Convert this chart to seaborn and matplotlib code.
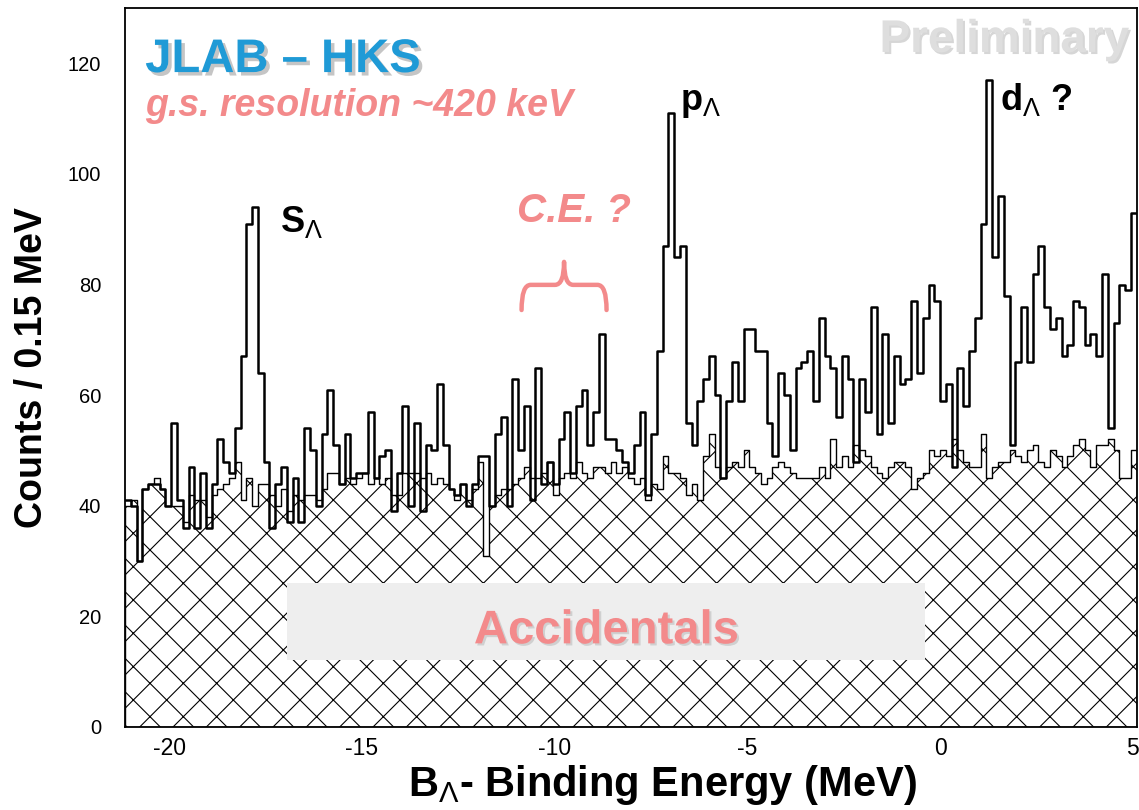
import numpy as np
import pandas as pd
import matplotlib
matplotlib.use("Agg")
import matplotlib.pyplot as plt
import matplotlib.patheffects as pe
from matplotlib.patches import Rectangle, PathPatch
from matplotlib.path import Path
from matplotlib.ticker import MultipleLocator
import seaborn as sns

# Histogram binning (MeV)
BIN_WIDTH = 0.15
X_START = -21.15

# Coincidence spectrum, counts per 0.15 MeV bin
signal_counts = [
    41, 40, 30, 43, 44, 44, 43, 40, 55, 41,
    36, 47, 36, 46, 36, 44, 52, 48, 46, 54,
    67, 91, 94, 64, 48, 36, 44, 47, 37, 45,
    37, 54, 50, 40, 53, 61, 51, 44, 53, 45,
    46, 46, 57, 45, 49, 50, 39, 46, 58, 40,
    55, 39, 51, 50, 62, 51, 43, 42, 44, 40,
    44, 49, 49, 40, 53, 56, 40, 63, 50, 58,
    41, 65, 44, 48, 44, 52, 57, 46, 58, 61,
    51, 57, 71, 52, 52, 50, 48, 46, 51, 57,
    42, 53, 68, 87, 111, 85, 87, 55, 51, 59,
    63, 67, 60, 45, 59, 66, 59, 72, 72, 68,
    68, 55, 49, 64, 60, 50, 65, 66, 68, 59,
    74, 67, 65, 56, 67, 63, 48, 63, 57, 76,
    53, 71, 55, 67, 62, 63, 77, 64, 74, 80,
    77, 59, 62, 47, 65, 58, 68, 74, 91, 117,
    85, 96, 78, 51, 66, 76, 66, 82, 87, 76,
    72, 74, 67, 69, 77, 76, 69, 71, 67, 82,
    54, 73, 80, 79, 93,
]

# Accidental coincidence background, counts per bin
accidental_counts = [
    40, 41, 30, 43, 44, 45, 43, 40, 40, 40,
    37, 42, 41, 41, 38, 42, 43, 44, 45, 48,
    41, 45, 40, 44, 44, 42, 40, 43, 39, 42,
    41, 42, 42, 41, 43, 46, 46, 44, 45, 44,
    45, 46, 44, 45, 44, 45, 42, 42, 46, 46,
    46, 45, 46, 44, 45, 44, 43, 41, 44, 41,
    43, 48, 31, 40, 42, 43, 43, 44, 45, 47,
    45, 45, 46, 48, 42, 45, 46, 45, 48, 46,
    45, 47, 47, 46, 48, 46, 47, 45, 44, 45,
    41, 44, 43, 49, 46, 46, 45, 42, 44, 41,
    49, 53, 47, 45, 47, 48, 47, 50, 47, 46,
    44, 45, 47, 48, 47, 46, 45, 45, 45, 45,
    47, 45, 52, 47, 49, 47, 51, 50, 49, 47,
    46, 45, 47, 48, 48, 47, 43, 45, 46, 50,
    49, 50, 49, 52, 50, 48, 47, 47, 53, 45,
    47, 48, 48, 50, 49, 48, 50, 51, 48, 47,
    50, 49, 47, 49, 51, 52, 50, 47, 51, 51,
    52, 50, 45, 45, 50,
]

x_ticks = [-20, -15, -10, -5, 0, 5]
y_ticks = [0, 20, 40, 60, 80, 100, 120]

n_bins = len(signal_counts)
edges = [X_START + BIN_WIDTH * i for i in range(n_bins + 1)]
centers = [0.5 * (edges[i] + edges[i + 1]) for i in range(n_bins)]
df = pd.DataFrame({"energy": centers,
                   "signal": signal_counts,
                   "accidental": accidental_counts})

sns.set_style("white")
plt.rcParams["font.family"] = ["Liberation Sans", "DejaVu Sans"]
plt.rcParams["mathtext.fontset"] = "custom"
plt.rcParams["mathtext.rm"] = "Liberation Sans"
plt.rcParams["mathtext.it"] = "Liberation Sans:italic"
plt.rcParams["mathtext.bf"] = "Liberation Sans:bold"
plt.rcParams["axes.unicode_minus"] = False
plt.rcParams["hatch.linewidth"] = 0.8
plt.rcParams["hatch.color"] = "black"

SALMON = "#f38a8b"
BLUE = "#1f9ad6"

fig = plt.figure(figsize=(11.39, 8.10), dpi=100)
ax = fig.add_axes([0.1097, 0.1025, 0.8883, 0.8875])

# accidentals: hatched filled step histogram
sns.histplot(data=df, x="energy", weights="accidental", bins=edges,
             element="step", fill=True, facecolor="white", edgecolor="black",
             hatch="x", linewidth=1.0, alpha=1, ax=ax)
# total spectrum: open step histogram
sns.histplot(data=df, x="energy", weights="signal", bins=edges,
             element="step", fill=False, color="black", linewidth=1.8, ax=ax)

ax.set_xlim(edges[0], edges[-1])
ax.set_ylim(0, 130)
ax.set_axisbelow(False)
ax.set_xticks(x_ticks)
ax.set_yticks(y_ticks)
ax.xaxis.set_minor_locator(MultipleLocator(1))
ax.yaxis.set_minor_locator(MultipleLocator(5))
ax.tick_params(axis="both", which="both", direction="in", top=False, right=False,
               color="black", labelcolor="black", width=1.0)
ax.tick_params(axis="x", which="major", length=11, labelsize=16.5, pad=7)
ax.tick_params(axis="x", which="minor", length=5)
ax.tick_params(axis="y", which="major", length=14, labelsize=14.5, pad=17)
ax.tick_params(axis="y", which="minor", length=7)
for sp in ax.spines.values():
    sp.set_color("black")
    sp.set_linewidth(1.3)

ax.set_ylabel("Counts / 0.15 MeV", fontsize=27, fontweight="bold", color="black")
ax.yaxis.label.set_va("center")
ax.yaxis.set_label_coords(-0.092, 0.5)
ax.set_xlabel(r"B$_\Lambda$- Binding Energy (MeV)", fontsize=30, fontweight="bold",
              color="black")
ax.xaxis.label.set_va("center")
ax.xaxis.set_label_coords(0.531, -0.081)

# text annotations
ax.text(0.02, 0.911, "JLAB \u2013 HKS", transform=ax.transAxes, color=BLUE,
        fontsize=34, fontweight="bold", va="baseline", ha="left",
        path_effects=[pe.withSimplePatchShadow(offset=(2.5, -2.5),
                                               shadow_rgbFace="0.5", alpha=0.45)])
ax.text(0.02, 0.850, "g.s. resolution ~420 keV", transform=ax.transAxes,
        color=SALMON, fontsize=27, fontweight="bold", fontstyle="italic",
        va="baseline", ha="left")
ax.text(0.387, 0.702, "C.E. ?", transform=ax.transAxes, color=SALMON,
        fontsize=29, fontweight="bold", fontstyle="italic", va="baseline")
ax.text(0.153, 0.688, r"S$_\Lambda$", transform=ax.transAxes, color="black",
        fontsize=26, fontweight="bold", va="baseline")
ax.text(0.549, 0.858, r"p$_\Lambda$", transform=ax.transAxes, color="black",
        fontsize=26, fontweight="bold", va="baseline")
ax.text(0.865, 0.858, r"d$_\Lambda$ ?", transform=ax.transAxes, color="black",
        fontsize=26, fontweight="bold", va="baseline")
ax.text(0.993, 0.939, "Preliminary", transform=ax.transAxes, color="#dedede",
        fontsize=33, fontweight="bold", va="baseline", ha="right",
        path_effects=[pe.withSimplePatchShadow(offset=(1.5, -1.5),
                                               shadow_rgbFace="0.6", alpha=0.4)])

# horizontal curly brace over the C.E. region
def curly_brace(axis, x0, x1, y_end, y_mid, y_tip, color, lw):
    xm = 0.5 * (x0 + x1)
    r = 0.009
    verts = [(x0, y_end), (x0, y_mid), (x0 + r, y_mid),
             (xm - r, y_mid),
             (xm, y_mid), (xm, y_tip),
             (xm, y_mid), (xm + r, y_mid),
             (x1 - r, y_mid),
             (x1, y_mid), (x1, y_end)]
    codes = [Path.MOVETO, Path.CURVE3, Path.CURVE3,
             Path.LINETO,
             Path.CURVE3, Path.CURVE3,
             Path.CURVE3, Path.CURVE3,
             Path.LINETO,
             Path.CURVE3, Path.CURVE3]
    patch = PathPatch(Path(verts, codes), facecolor="none", edgecolor=color,
                      linewidth=lw, transform=axis.transAxes, clip_on=False,
                      capstyle="round", joinstyle="round", zorder=5)
    axis.add_patch(patch)

curly_brace(ax, 0.392, 0.476, 0.580, 0.615, 0.647, SALMON, 3.2)

# label box for the accidental background
ax.add_patch(Rectangle((0.160, 0.093), 0.631, 0.107, transform=ax.transAxes,
                       facecolor="#eeeeee", edgecolor="none", zorder=3))
ax.text(0.476, 0.133, "Accidentals", transform=ax.transAxes, color=SALMON,
        fontsize=34, fontweight="bold", ha="center", va="center", zorder=4,
        path_effects=[pe.withSimplePatchShadow(offset=(1.5, -1.5),
                                               shadow_rgbFace="0.6", alpha=0.35)])

fig.savefig("out.png", dpi=100)
